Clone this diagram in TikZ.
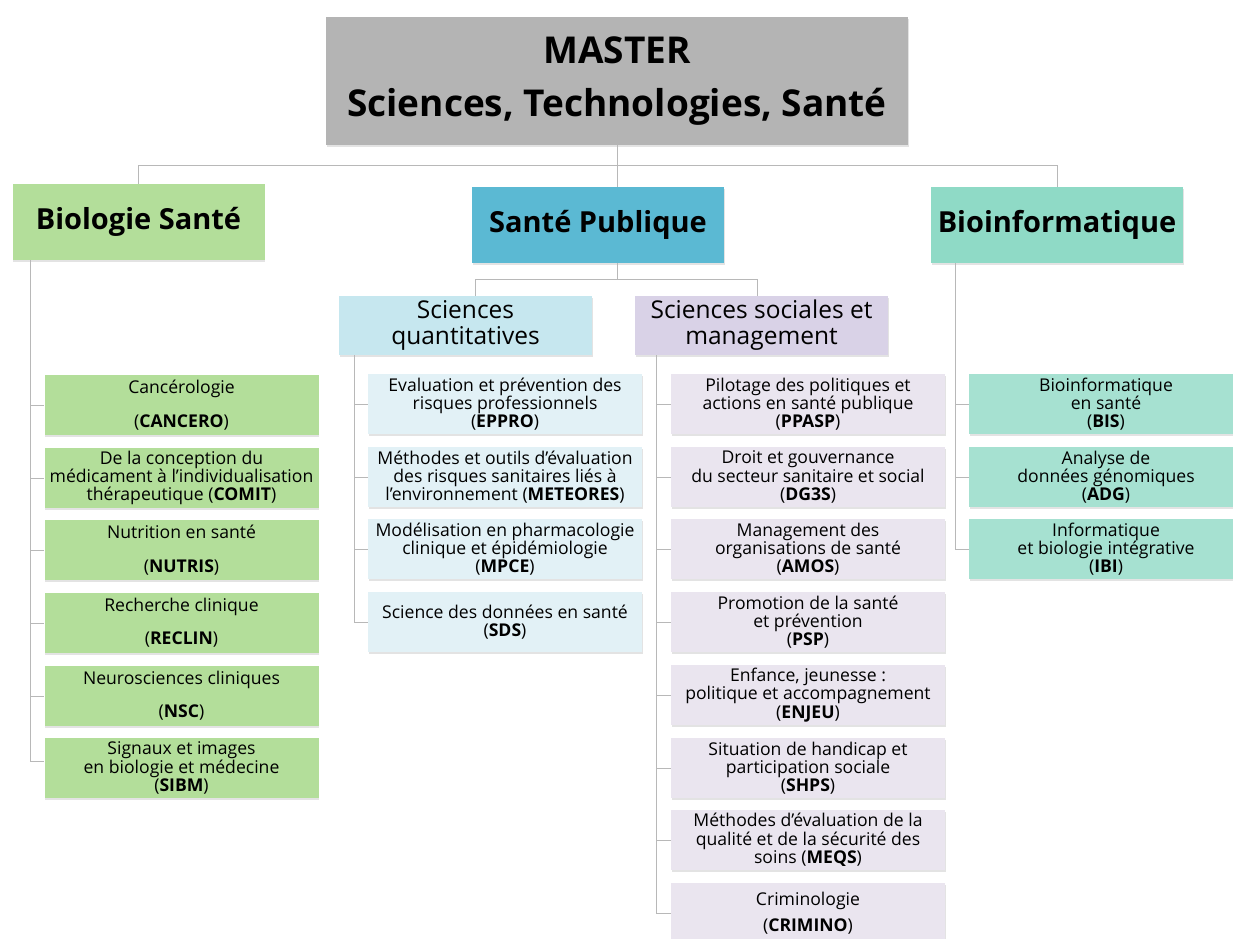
\documentclass[tikz,border=0pt]{standalone}
\usepackage{fontspec}
\setmainfont{Open Sans}
\usetikzlibrary{shadows}

\definecolor{mastergray}{HTML}{B4B4B4}
\definecolor{biogreen}{HTML}{B3DE9A}
\definecolor{spblue}{HTML}{5BB9D3}
\definecolor{infohead}{HTML}{8FDAC6}
\definecolor{infobox}{HTML}{A6E1D1}
\definecolor{quanthead}{HTML}{C6E7EF}
\definecolor{quantbox}{HTML}{E2F1F6}
\definecolor{sochead}{HTML}{D9D2E7}
\definecolor{socbox}{HTML}{EAE5EF}
\definecolor{linegray}{HTML}{B8B8B8}

\begin{document}
\begin{tikzpicture}[
    x=1pt, y=-1pt,
    every node/.style={rectangle, inner sep=0pt, align=center, drop shadow={shadow xshift=0.8pt, shadow yshift=-2pt, opacity=0.22}},
    master/.style={fill=mastergray, minimum width=582pt, minimum height=128pt, font=\fontsize{37}{53}\selectfont\bfseries},
    mention/.style={minimum width=252pt, minimum height=76pt, font=\fontsize{29}{32}\selectfont\bfseries},
    track/.style={minimum width=253pt, minimum height=59pt, font=\fontsize{24.5}{26}\selectfont},
    course/.style={minimum width=274pt, minimum height=60pt, font=\fontsize{17.6}{18.3}\selectfont},
    link/.style={draw=linegray, line width=1pt}
]
\useasboundingbox (0,0) rectangle (1233,938);

% top level
\node[master] (master) at (617,81) {MASTER\\Sciences, Technologies, Santé};

\node[mention, fill=biogreen] (bio) at (138.5,222) {Biologie Santé};
\node[mention, fill=spblue] (sp) at (598,225) {Santé Publique};
\node[mention, fill=infohead] (bioinfo) at (1057,225) {Bioinformatique};

\node[track, fill=quanthead] (quant) at (465.5,325.5) {Sciences\\quantitatives};
\node[track, fill=sochead] (soc) at (761.5,325.5) {Sciences sociales et\\management};

% Biologie Sante
\node[course, fill=biogreen] (cancero) at (181.5,405) {Cancérologie\\[15pt](\textbf{CANCERO})};
\node[course, fill=biogreen] (comit) at (181.5,478) {De la conception du\\médicament à l’individualisation\\thérapeutique (\textbf{COMIT})};
\node[course, fill=biogreen] (nutris) at (181.5,550) {Nutrition en santé\\[15pt](\textbf{NUTRIS})};
\node[course, fill=biogreen] (reclin) at (181.5,623) {Recherche clinique\\[15pt](\textbf{RECLIN})};
\node[course, fill=biogreen] (nsc) at (181.5,696) {Neurosciences cliniques\\[15pt](\textbf{NSC})};
\node[course, fill=biogreen] (sibm) at (181.5,768) {Signaux et images\\en biologie et médecine\\(\textbf{SIBM})};

% Sciences quantitatives
\node[course, fill=quantbox] (eppro) at (505,404) {Evaluation et prévention des\\risques professionnels\\(\textbf{EPPRO})};
\node[course, fill=quantbox] (meteores) at (505,477) {Méthodes et outils d’évaluation\\des risques sanitaires liés à\\l’environnement (\textbf{METEORES})};
\node[course, fill=quantbox] (mpce) at (505,549) {Modélisation en pharmacologie\\clinique et épidémiologie\\(\textbf{MPCE})};
\node[course, fill=quantbox] (sds) at (505,622) {Science des données en santé\\(\textbf{SDS})};

% Sciences sociales et management
\node[course, fill=socbox] (ppasp) at (808,404) {Pilotage des politiques et\\actions en santé publique\\(\textbf{PPASP})};
\node[course, fill=socbox] (dgs) at (808,477) {Droit et gouvernance\\du secteur sanitaire et social\\(\textbf{DG3S})};
\node[course, fill=socbox] (amos) at (808,549) {Management des\\organisations de santé\\(\textbf{AMOS})};
\node[course, fill=socbox] (psp) at (808,622) {Promotion de la santé\\et prévention\\(\textbf{PSP})};
\node[course, fill=socbox] (enjeu) at (808,695) {Enfance, jeunesse :\\politique et accompagnement\\(\textbf{ENJEU})};
\node[course, fill=socbox] (shps) at (808,768) {Situation de handicap et\\participation sociale\\(\textbf{SHPS})};
\node[course, fill=socbox] (meqs) at (808,840) {Méthodes d’évaluation de la\\qualité et de la sécurité des\\soins (\textbf{MEQS})};
\node[course, fill=socbox] (crimino) at (808,913) {Criminologie\\[8pt](\textbf{CRIMINO})};

% Bioinformatique
\node[course, fill=infobox] (bis) at (1106,404) {Bioinformatique\\en santé\\(\textbf{BIS})};
\node[course, fill=infobox] (adg) at (1106,477) {Analyse de\\données génomiques\\(\textbf{ADG})};
\node[course, fill=infobox] (ibi) at (1106,549) {Informatique\\et biologie intégrative\\(\textbf{IBI})};

% connectors
\coordinate (topfork) at ([yshift=-20pt]master.south);
\coordinate (spfork) at (617,279);
\draw[link] (master.south) -- (topfork);
\draw[link] (topfork) -| (bio.north);
\draw[link] (topfork) -| (bioinfo.north);
\draw[link] (topfork) -- (topfork |- sp.north);
\draw[link] (sp.south -| spfork) -- (spfork);
\draw[link] (spfork) -| ([xshift=10pt]quant.north);
\draw[link] (spfork) -| ([xshift=-4pt]soc.north);

\coordinate (biotrunk) at ([xshift=18pt]bio.south west);
\coordinate (quanttrunk) at ([xshift=16pt]quant.south west);
\coordinate (soctrunk) at ([xshift=22pt]soc.south west);
\coordinate (infotrunk) at ([xshift=25pt]bioinfo.south west);

\draw[link] (biotrunk) |- (cancero.west);
\draw[link] (biotrunk) |- (comit.west);
\draw[link] (biotrunk) |- (nutris.west);
\draw[link] (biotrunk) |- (reclin.west);
\draw[link] (biotrunk) |- (nsc.west);
\draw[link] (biotrunk) |- ([yshift=7pt]sibm.west);

\draw[link] (quanttrunk) |- (eppro.west);
\draw[link] (quanttrunk) |- (meteores.west);
\draw[link] (quanttrunk) |- (mpce.west);
\draw[link] (quanttrunk) |- (sds.west);

\draw[link] (soctrunk) |- (ppasp.west);
\draw[link] (soctrunk) |- (dgs.west);
\draw[link] (soctrunk) |- (amos.west);
\draw[link] (soctrunk) |- (psp.west);
\draw[link] (soctrunk) |- (enjeu.west);
\draw[link] (soctrunk) |- (shps.west);
\draw[link] (soctrunk) |- (meqs.west);
\draw[link] (soctrunk) |- (crimino.west);

\draw[link] (infotrunk) |- (bis.west);
\draw[link] (infotrunk) |- (adg.west);
\draw[link] (infotrunk) |- (ibi.west);

\end{tikzpicture}
\end{document}
